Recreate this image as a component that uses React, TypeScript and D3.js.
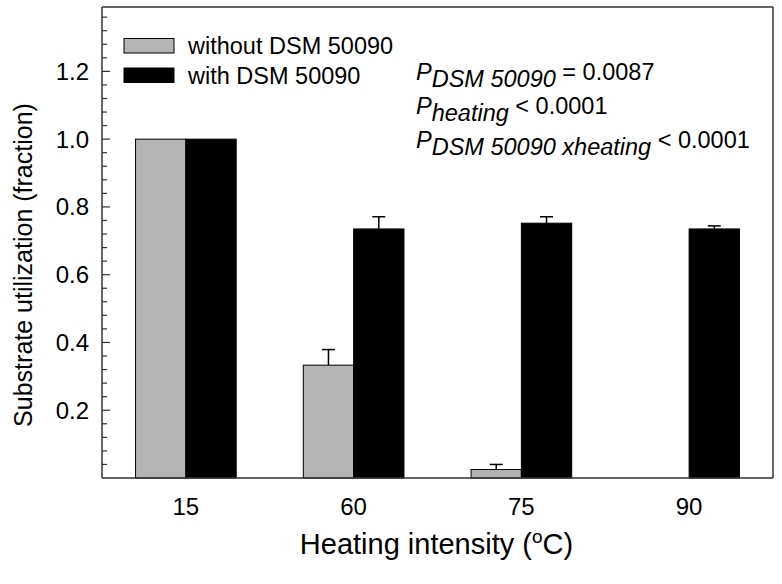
import React from "react";
import * as d3 from "d3";

const categories = ["15", "60", "75", "90"];
const withoutValues = [1.0, 0.333, 0.025, 0];
const withoutErrors = [0, 0.046, 0.015, 0];
const withValues = [1.0, 0.735, 0.752, 0.735];
const withErrors = [0, 0.036, 0.019, 0.009];
const yTickLabels = [0.2, 0.4, 0.6, 0.8, 1.0, 1.2];
const legendLabels = ["without DSM 50090", "with DSM 50090"];

const W = 782;
const H = 584;
const left = 102;
const right = 773;
const top = 7;
const bottom = 478;
const FONT = "Arial, 'Liberation Sans', Helvetica, sans-serif";

export default function App() {
  const x = d3.scaleBand<string>().domain(categories).range([left, right]).padding(0);
  const y = d3.scaleLinear().domain([0, 1.39]).range([bottom, top]);
  const bw = x.bandwidth() * 0.3;
  const minor = d3.range(0.04, 1.37, 0.04).filter((v) => Math.abs(Math.round(v * 5) - v * 5) > 1e-6);
  const series = [
    { vals: withoutValues, errs: withoutErrors, fill: "#b4b4b4", off: -1 },
    { vals: withValues, errs: withErrors, fill: "#000000", off: 0 },
  ];
  return (
    <svg width={W} height={H} style={{ position: "absolute", left: 0, top: 0, background: "#fff" }} fontFamily={FONT}>
      <rect x={0} y={0} width={W} height={H} fill="#fff" />
      {series.map((s, si) =>
        categories.map((c, i) => {
          const cx = (x(c) as number) + x.bandwidth() / 2;
          const x0 = cx + s.off * bw;
          const v = s.vals[i];
          if (v <= 0) return null;
          const yt = y(v);
          const ye = y(v + s.errs[i]);
          return (
            <g key={si + "-" + i}>
              <rect x={x0} y={yt} width={bw} height={bottom - yt} fill={s.fill} stroke="#000" strokeWidth={1} />
              {s.errs[i] > 0 && (
                <g stroke="#000" strokeWidth={1.5}>
                  <line x1={x0 + bw / 2} x2={x0 + bw / 2} y1={yt} y2={ye} />
                  <line x1={x0 + bw / 2 - 6.5} x2={x0 + bw / 2 + 6.5} y1={ye} y2={ye} />
                </g>
              )}
            </g>
          );
        })
      )}
      <g stroke="#333" strokeWidth={1.5} fill="none">
        <line x1={left} x2={right} y1={top} y2={top} />
        <line x1={right} x2={right} y1={top} y2={bottom} />
        <line x1={left} x2={left} y1={top} y2={bottom} />
        <line x1={left} x2={right} y1={bottom} y2={bottom} />
      </g>
      <g stroke="#333" strokeWidth={1.2}>
        {minor.map((v) => (
          <line key={"m" + v} x1={left} x2={left + 5} y1={y(v)} y2={y(v)} />
        ))}
        {yTickLabels.map((v) => (
          <line key={"M" + v} x1={left} x2={left + 8} y1={y(v)} y2={y(v)} />
        ))}
      </g>
      {yTickLabels.map((v) => (
        <text key={"t" + v} x={89} y={y(v) + 8.5} fontSize={24} textAnchor="end" fill="#000">
          {d3.format(".1f")(v)}
        </text>
      ))}
      {categories.map((c) => (
        <text key={"x" + c} x={(x(c) as number) + x.bandwidth() / 2} y={515} fontSize={24} textAnchor="middle" fill="#000">
          {c}
        </text>
      ))}
      <text x={(left + right) / 2 - 1} y={554} fontSize={29} textAnchor="middle" fill="#000">
        Heating intensity (<tspan fontSize={19} dy={-11}>o</tspan>
        <tspan dy={11}>C)</tspan>
      </text>
      <text transform={`translate(32,265) rotate(-90)`} fontSize={25} textAnchor="middle" fill="#000">
        Substrate utilization (fraction)
      </text>
      {legendLabels.map((l, i) => (
        <g key={l}>
          <rect x={124} y={38.5 + i * 29.5} width={50} height={14.5} fill={series[i].fill} stroke="#000" strokeWidth={1} />
          <text x={188} y={54 + i * 29.5} fontSize={23.5} fill="#000">
            {l}
          </text>
        </g>
      ))}
      <g fontSize={23.5} fill="#000">
        <text x={416} y={80}>
          <tspan fontStyle="italic">P</tspan>
          <tspan fontStyle="italic" dy={7}>DSM 50090</tspan>
          <tspan dy={-7}> = 0.0087</tspan>
        </text>
        <text x={416} y={114}>
          <tspan fontStyle="italic">P</tspan>
          <tspan fontStyle="italic" dy={7}>heating</tspan>
          <tspan dy={-7}> &lt; 0.0001</tspan>
        </text>
        <text x={416} y={148}>
          <tspan fontStyle="italic">P</tspan>
          <tspan fontStyle="italic" dy={7}>DSM 50090 xheating</tspan>
          <tspan dy={-7}> &lt; 0.0001</tspan>
        </text>
      </g>
    </svg>
  );
}
